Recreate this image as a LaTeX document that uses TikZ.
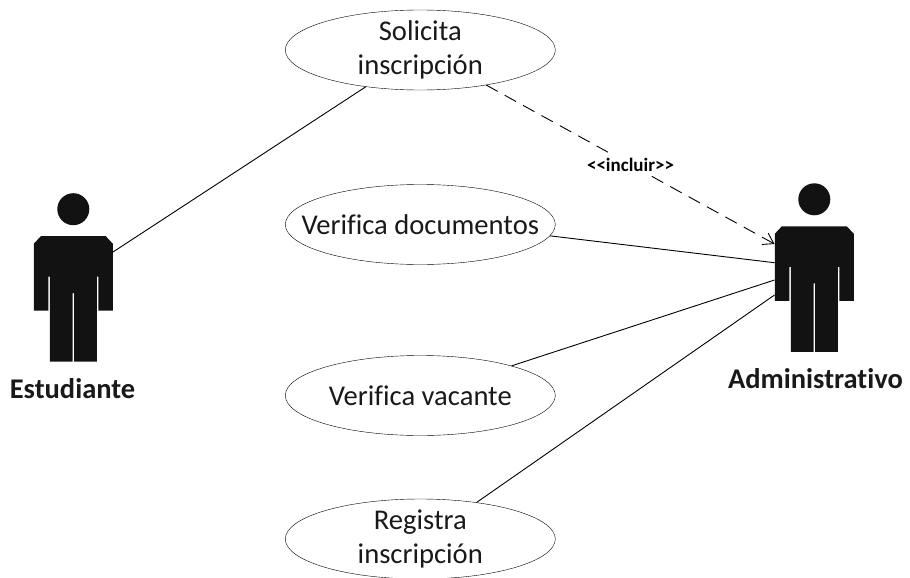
\documentclass[tikz,border=0pt]{standalone}
\usepackage{fontspec}
\setmainfont[Ligatures=NoCommon]{Carlito}
\usetikzlibrary{shapes.geometric,arrows.meta}
\tikzset{
  usecase/.style={draw=black,ellipse,minimum width=270pt,minimum height=80pt,inner xsep=-50pt,inner ysep=-25pt,align=center,font=\fontsize{28.6}{34}\selectfont,text=black!90},
  actorfill/.style={fill=black!93,draw=none},
  actorname/.style={font=\fontsize{28.5}{30}\bfseries\selectfont,text=black!90,inner sep=0pt,anchor=base},
  conn/.style={draw=black,line width=0.9pt},
  incl/.style={conn,dash pattern=on 13pt off 8pt,-{Straight Barb[length=10pt,width=13pt,line width=0.9pt]}}
}
\newcommand{\actorshape}[2]{%
  \begin{scope}[shift={(#1,#2)}]
    \fill[actorfill] (0,0) circle[radius=16];
    \fill[actorfill] (-39.5,34.5) -- (-32.5,27) -- (32.5,27) -- (39.5,34.5) -- (39.5,101.5) -- (25,101.5) -- (25,67.5) -- (23.5,67.5) -- (23.5,152.5) -- (0.7,152.5) -- (0.7,84) -- (-0.7,84) -- (-0.7,152.5) -- (-23.5,152.5) -- (-23.5,67.5) -- (-25,67.5) -- (-25,101.5) -- (-39.5,101.5) -- cycle;
  \end{scope}}
\begin{document}
\begin{tikzpicture}[x=1pt,y=-1pt]
  \useasboundingbox (0,0) rectangle (910,578);
  \actorshape{73.3}{209.2}
  \actorshape{814.3}{199.3}
  \coordinate (estport) at (113,252);
  \coordinate (adminarrow) at (774.5,244);
  \coordinate (admindoc) at (774.5,262.7);
  \coordinate (adminvac) at (774.5,280);
  \coordinate (adminreg) at (774.5,295);
  \node[actorname] (estudiante) at (72.5,398) {Estudiante};
  \node[actorname] (administrativo) at (815.5,388) {Administrativo};
  \node[usecase] (solicita) at (420.3,50) {Solicita\\inscripción};
  \node[usecase] (documentos) at (420.3,224.5) {Verifica documentos};
  \node[usecase] (vacante) at (420.3,395.5) {Verifica vacante};
  \node[usecase] (registra) at (420.3,539) {Registra\\inscripción};
  \draw[conn] (estport) -- (solicita.214);
  \draw[incl] (solicita.332) -- node[pos=0.49,xshift=3pt,yshift=-2pt,fill=white,inner xsep=1pt,inner ysep=4pt,font=\fontsize{19}{20}\bfseries\selectfont,text=black] (incluir) {<{}<incluir>{}>} (adminarrow);
  \draw[conn] (documentos.355) -- (admindoc);
  \draw[conn] (vacante.18) -- (adminvac);
  \draw[conn] (registra.33) -- (adminreg);
\end{tikzpicture}
\end{document}
